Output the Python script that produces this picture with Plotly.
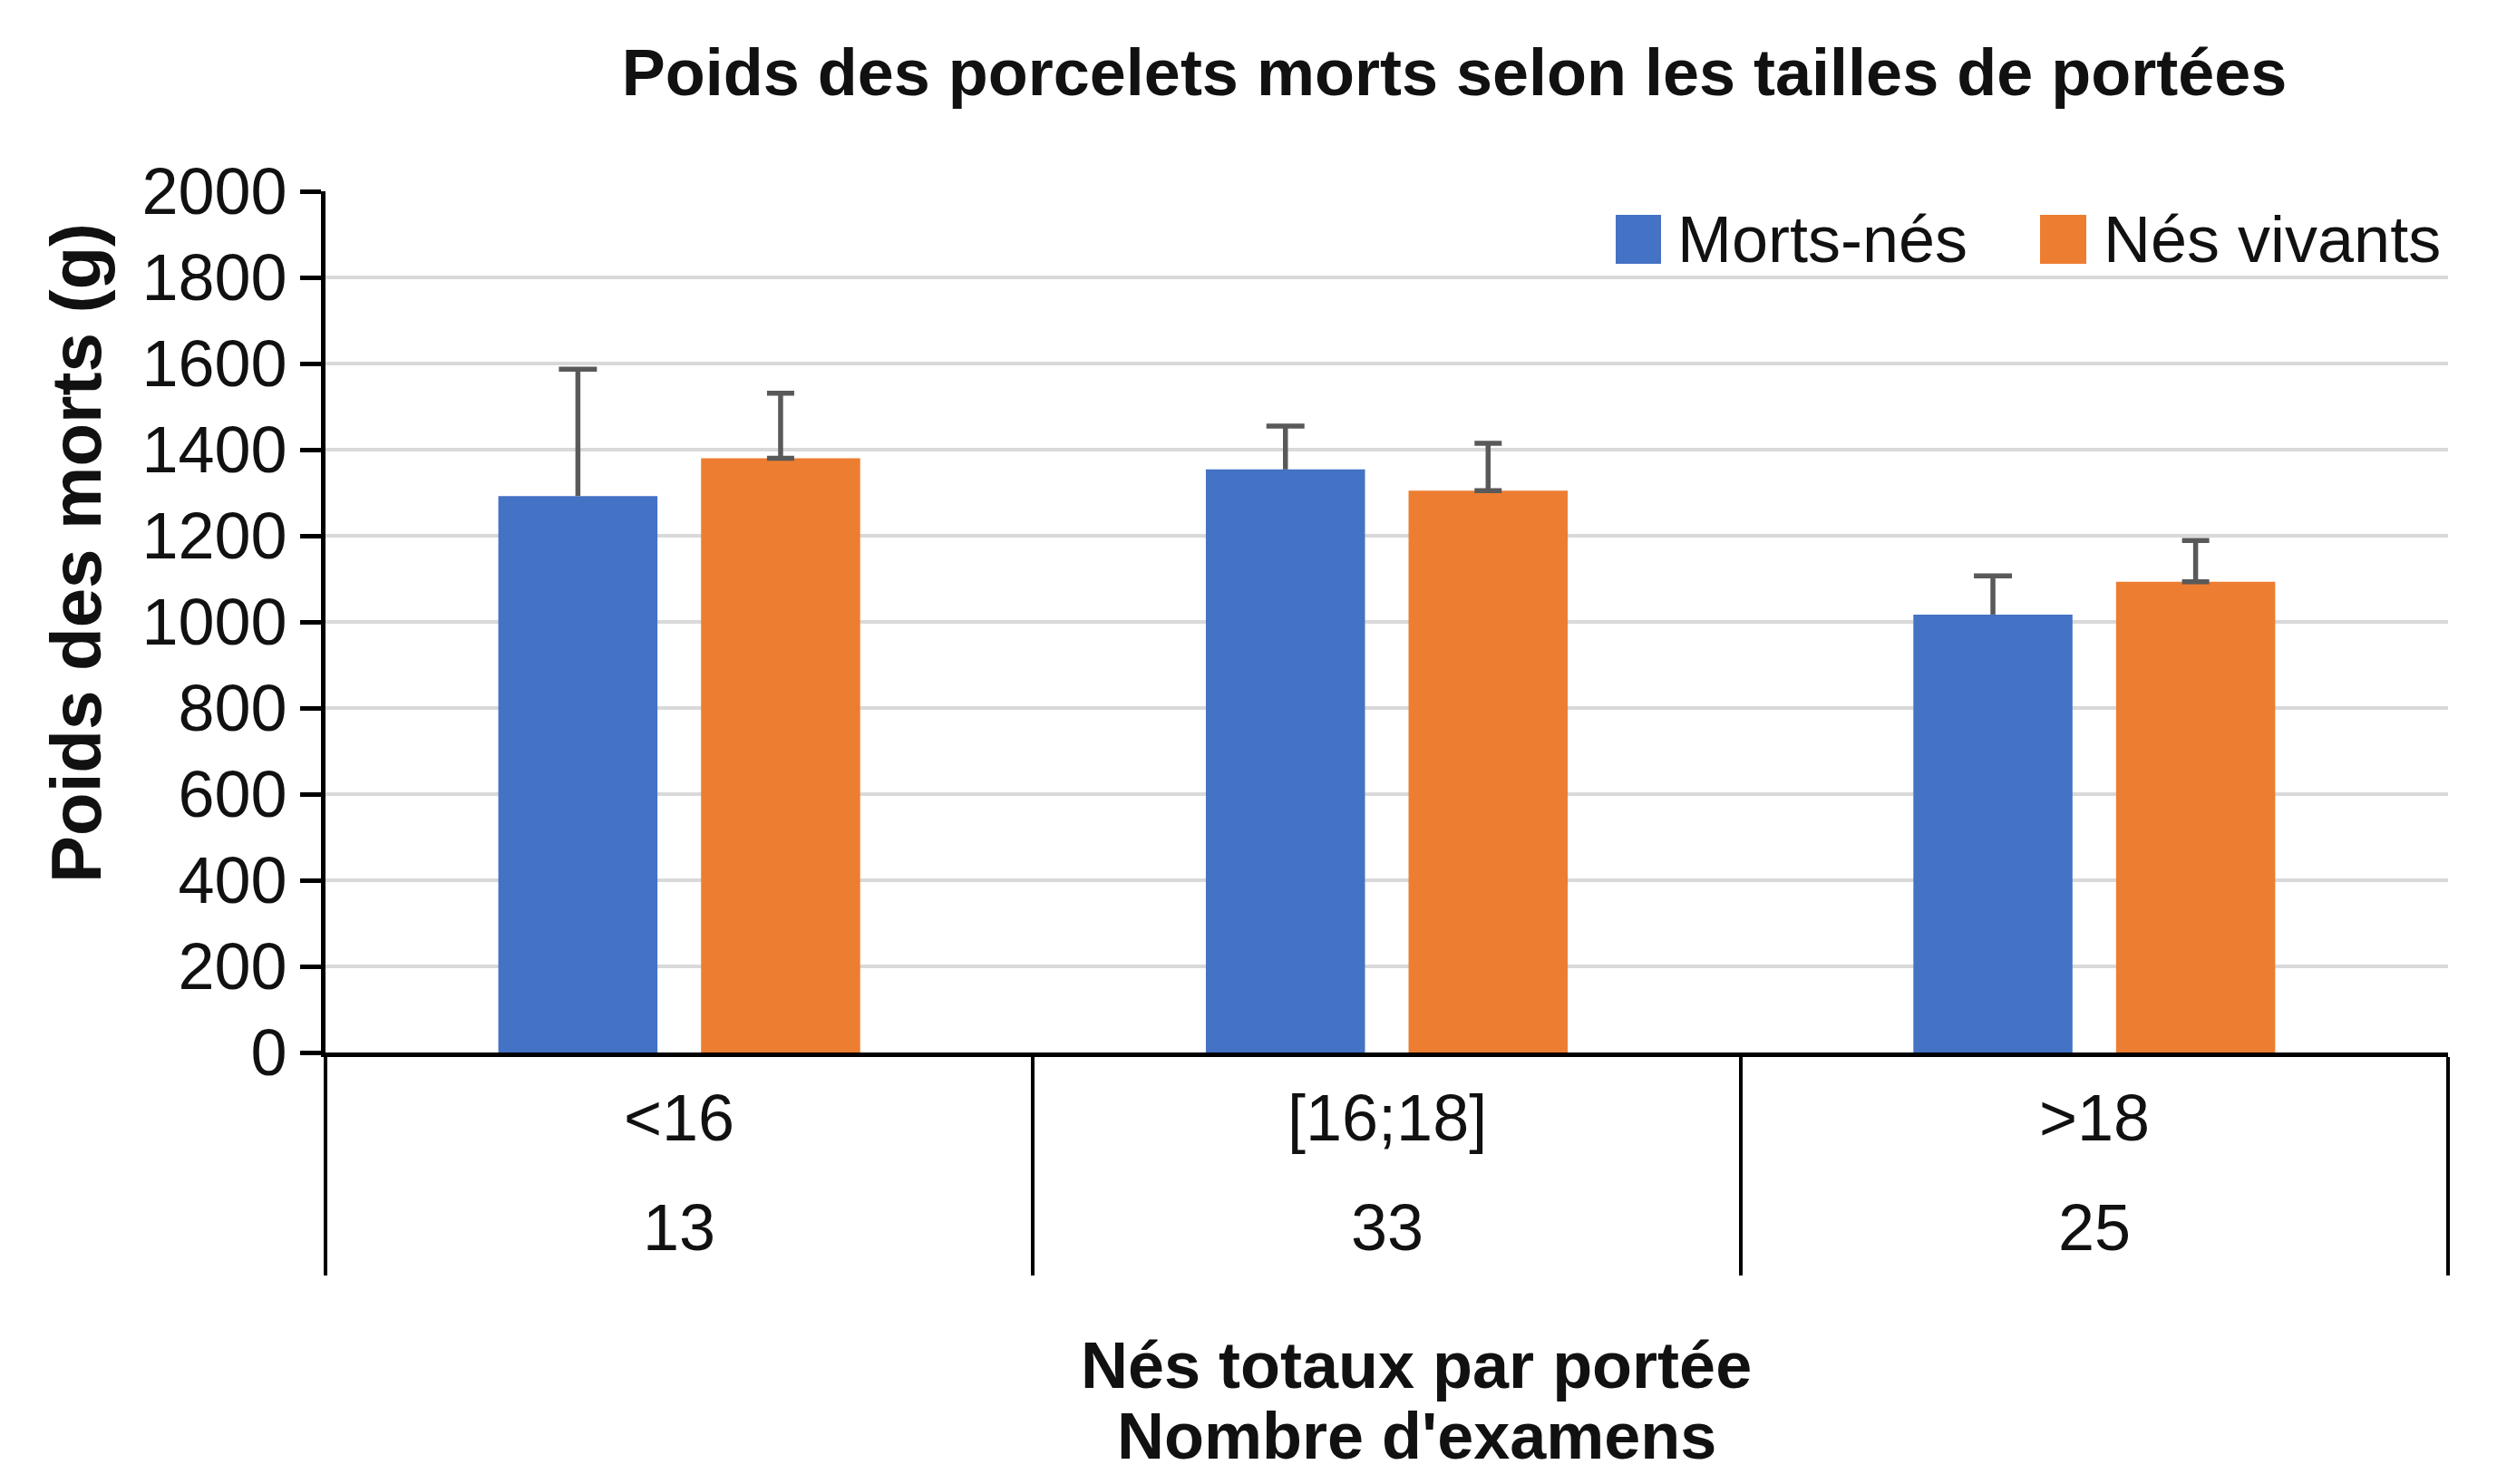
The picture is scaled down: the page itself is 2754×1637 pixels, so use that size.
import plotly.graph_objects as go

# ---- data ----
categories = ["<16", "[16;18]", ">18"]
n_examens = ["13", "33", "25"]
series_names = ["Morts-nés", "Nés vivants"]
morts_nes = [1292, 1354, 1017]
morts_nes_err = [295, 101, 90]
nes_vivants = [1380, 1305, 1093]
nes_vivants_err = [151, 110, 96]
y_ticks = [0, 200, 400, 600, 800, 1000, 1200, 1400, 1600, 1800, 2000]

# ---- style ----
BLUE = "#4472C4"
ORANGE = "#ED7D31"
ERR = "#595959"
FONT = "Liberation Sans, Arial, sans-serif"
OFF = 8  # default page body margin
W, H = 2754 - OFF, 1637 - OFF
ML, MT = 351, 203
PLOT_BOTTOM, PLOT_RIGHT = 1153, 2692
MB, MR = H - PLOT_BOTTOM, W - PLOT_RIGHT
BARGAP = 0.427
BARGROUPGAP = 0.215

fig = go.Figure()
fig.add_trace(go.Bar(x=categories, y=morts_nes, name=series_names[0],
                     marker=dict(color=BLUE, line=dict(width=0))))
fig.add_trace(go.Bar(x=categories, y=nes_vivants, name=series_names[1],
                     marker=dict(color=ORANGE, line=dict(width=0)),
                     error_y=dict(type="data", symmetric=False, array=nes_vivants_err,
                                  arrayminus=[0] * len(nes_vivants_err),
                                  color=ERR, thickness=5.5, width=15)))

# blue error bars (plus only, no base cap) on a numeric overlay axis
offset = (1 - BARGAP) / 4
sx, sy = [], []
for i, (v, e) in enumerate(zip(morts_nes, morts_nes_err)):
    sx += [i - offset, i - offset, None]
    sy += [v, v + e, None]
fig.add_trace(go.Scatter(x=sx, y=sy, mode="lines", xaxis="x2", yaxis="y",
                         line=dict(color=ERR, width=5.5), showlegend=False, hoverinfo="skip"))
fig.add_trace(go.Scatter(x=[i - offset for i in range(len(categories))],
                         y=[v + e for v, e in zip(morts_nes, morts_nes_err)],
                         mode="markers", xaxis="x2", yaxis="y",
                         marker=dict(symbol="line-ew", size=30, color=ERR,
                                     line=dict(color=ERR, width=5.5)),
                         showlegend=False, hoverinfo="skip"))

pw = W - ML - MR
ph = H - MT - MB


def px_x(p):
    return (p - OFF - ML) / pw


def px_y(p):
    return (PLOT_BOTTOM - (p - OFF)) / ph


annotations = []
for c, n in zip(categories, n_examens):
    annotations.append(dict(x=c, xref="x", y=px_y(1233), yref="paper", text=c,
                            showarrow=False, font=dict(size=72, color="#111", family=FONT),
                            xanchor="center", yanchor="middle"))
    annotations.append(dict(x=c, xref="x", y=px_y(1354), yref="paper", text=n,
                            showarrow=False, font=dict(size=72, color="#111", family=FONT),
                            xanchor="center", yanchor="middle"))
# axis titles
annotations.append(dict(x=px_x(84), y=px_y(610), xref="paper", yref="paper",
                        text="<b>Poids des morts (g)</b>", textangle=-90, showarrow=False,
                        font=dict(size=78, color="#111", family=FONT),
                        xanchor="center", yanchor="middle"))
annotations.append(dict(x=px_x(1562), y=px_y(1506), xref="paper", yref="paper",
                        text="<b>Nés totaux par portée</b>", showarrow=False,
                        font=dict(size=72, color="#111", family=FONT),
                        xanchor="center", yanchor="middle"))
annotations.append(dict(x=px_x(1562), y=px_y(1584), xref="paper", yref="paper",
                        text="<b>Nombre d'examens</b>", showarrow=False,
                        font=dict(size=72, color="#111", family=FONT),
                        xanchor="center", yanchor="middle"))
# manual legend
shapes = []
leg = [(series_names[0], BLUE, 1782, 1832, 1848), (series_names[1], ORANGE, 2250, 2301, 2318)]
for name, col, x0, x1, tx in leg:
    shapes.append(dict(type="rect", xref="paper", yref="paper",
                       x0=px_x(x0), x1=px_x(x1), y0=px_y(291), y1=px_y(237),
                       fillcolor=col, line=dict(width=0)))
    annotations.append(dict(x=px_x(tx), y=px_y(264), xref="paper", yref="paper",
                            text=name, showarrow=False,
                            font=dict(size=72, color="#111", family=FONT),
                            xanchor="left", yanchor="middle"))

fig.update_layout(
    width=W, height=H,
    margin=dict(l=ML, r=MR, t=MT, b=MB),
    paper_bgcolor="white", plot_bgcolor="white",
    barmode="group", bargap=BARGAP, bargroupgap=BARGROUPGAP,
    showlegend=False,
    title=dict(text="<b>Poids des porcelets morts selon les tailles de portées</b>",
               x=(1604 - OFF) / W, xref="container", xanchor="center",
               y=1 - (80 - OFF) / H, yref="container", yanchor="middle",
               font=dict(size=72, color="#111", family=FONT)),
    xaxis=dict(type="category", range=[-0.5, 2.5], showline=True, linecolor="black",
               linewidth=5, ticks="outside", tickson="boundaries", ticklen=241,
               tickwidth=3.5, tickcolor="black", showticklabels=False, showgrid=False,
               zeroline=False),
    xaxis2=dict(overlaying="x", range=[-0.5, 2.5], visible=False, anchor="y"),
    yaxis=dict(range=[0, 2000], tickvals=y_ticks, showline=True, linecolor="black",
               linewidth=5, ticks="outside", ticklen=23, tickwidth=4.5, tickcolor="black",
               gridcolor="#d9d9d9", gridwidth=4, zeroline=False,
               tickfont=dict(size=72, color="#111", family=FONT)),
    annotations=annotations,
    shapes=shapes,
)

fig.write_html("out.html")
